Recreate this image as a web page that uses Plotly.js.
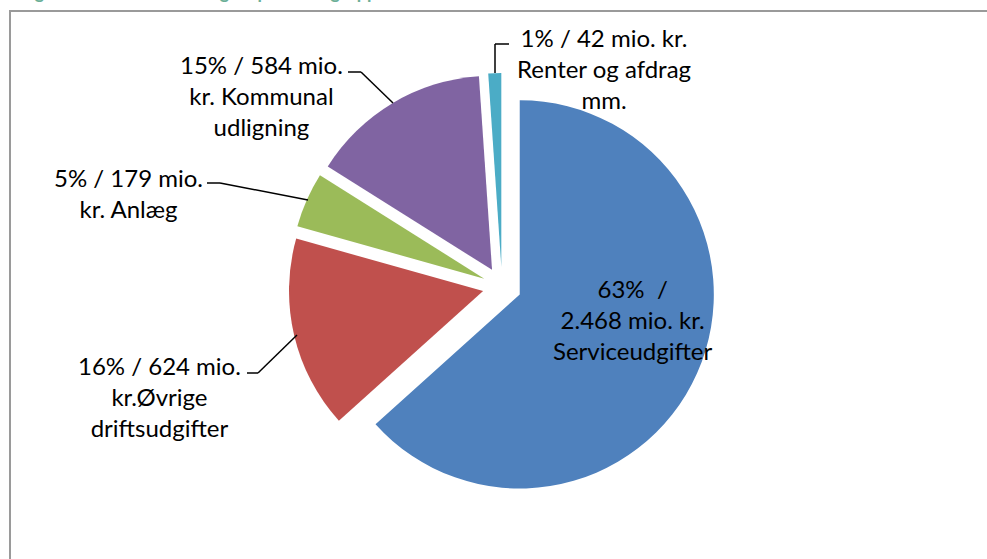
<!DOCTYPE html>
<html>
<head>
<meta charset="utf-8">
<script src="https://cdn.plot.ly/plotly-3.0.1.min.js"></script>
<style>html,body{margin:0;padding:0;background:#fff;}#chart{width:987px;height:559px;}</style>
</head>
<body>
<div id="chart"></div>
<script>
// ---- data ----
const categories = ["Serviceudgifter", "Øvrige driftsudgifter", "Anlæg", "Kommunal udligning", "Renter og afdrag mm."];
const values = [2468, 624, 179, 584, 42];
const colors = ["#4F81BD", "#C0504D", "#9BBB59", "#8064A2", "#4BACC6"];
const labelText = [
  "63%  /<br>2.468 mio. kr.<br>Serviceudgifter",
  "16% / 624 mio.<br>kr.Øvrige<br>driftsudgifter",
  "5% / 179 mio.<br>kr. Anlæg",
  "15% / 584 mio.<br>kr. Kommunal<br>udligning",
  "1% / 42 mio. kr.<br>Renter og afdrag<br>mm."
];
const titleText = "Figur 1: Kommunens budgets på hovedgrupper";

// ---- layout helpers (pixel -> paper) ----
const W = 987, H = 559, ML = 17, MR = 0, MT = 73, MB = 59;
const PW = W - ML - MR, PH = H - MT - MB;
const fx = p => (p - ML) / PW;
const fy = p => 1 - (p - MT) / PH;

// label positions (px) and leader lines (px)
const labelPos = [[633, 319], [159, 396], [128, 193], [261, 95], [604, 68]];
const leaders = [
  null,
  [[247, 373], [258, 373], [297, 335]],
  [[207, 183], [220, 183], [308, 200]],
  [[348, 72], [361, 72], [393, 103]],
  [[495, 73], [495, 44], [509, 44]]
];

const font = "Lato, 'Open Sans', sans-serif";

const annotations = labelText.map((t, i) => ({
  xref: "paper", yref: "paper",
  x: fx(labelPos[i][0]), y: fy(labelPos[i][1]),
  xanchor: "center", yanchor: "middle",
  text: t, showarrow: false, align: "center",
  font: {family: font, size: 24, color: "#000"}
}));
annotations.push({
  xref: "paper", yref: "paper", x: fx(18), y: fy(5), xanchor: "left", yanchor: "bottom",
  text: "<b>" + titleText + "</b>", showarrow: false,
  font: {family: font, size: 18, color: "#6BAF97"}
});

const shapes = [];
leaders.forEach(seg => {
  if (!seg) return;
  for (let k = 0; k < seg.length - 1; k++) {
    shapes.push({type: "line", xref: "paper", yref: "paper",
      x0: fx(seg[k][0]), y0: fy(seg[k][1]), x1: fx(seg[k + 1][0]), y1: fy(seg[k + 1][1]),
      line: {color: "#000", width: 1.5}});
  }
});
// chart area border (extends beyond the visible window)
shapes.push({type: "rect", xref: "paper", yref: "paper",
  x0: fx(10), y0: fy(11), x1: fx(1200), y1: fy(800),
  line: {color: "#9A9A9A", width: 2}, fillcolor: "rgba(0,0,0,0)"});

const trace = {
  type: "pie",
  labels: categories,
  values: values,
  sort: false,
  direction: "clockwise",
  rotation: 0,
  pull: values.map(() => 0.1),
  marker: {colors: colors, line: {width: 0}},
  textinfo: "none",
  hoverinfo: "none",
  showlegend: false
};

const layout = {
  width: W, height: H,
  margin: {l: ML, r: MR, t: MT, b: MB, pad: 0},
  paper_bgcolor: "#fff",
  showlegend: false,
  annotations: annotations,
  shapes: shapes
};

Plotly.newPlot("chart", [trace], layout, {staticPlot: true, displayModeBar: false});
</script>
</body>
</html>
